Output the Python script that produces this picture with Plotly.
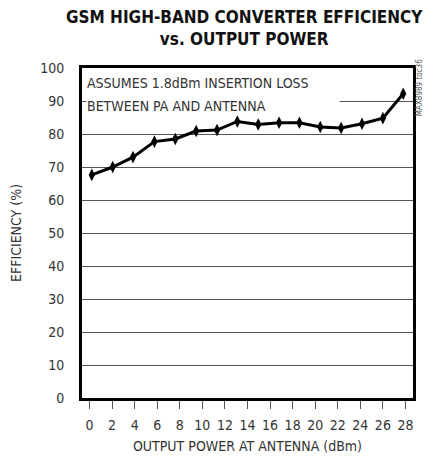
import plotly.graph_objects as go

# output power at antenna (dBm) and converter efficiency (%)
power_dbm = [0.2, 2.05, 3.85, 5.75, 7.6, 9.45, 11.3, 13.1, 14.95, 16.8, 18.6, 20.45, 22.3, 24.15, 26.0, 27.8]
efficiency = [67.6, 70.0, 73.0, 77.7, 78.5, 80.9, 81.2, 83.8, 82.9, 83.4, 83.4, 82.1, 81.8, 83.1, 84.8, 92.2]

x_ticks = list(range(0, 29, 2))
y_ticks = list(range(0, 101, 10))

FONT = "DejaVu Sans Condensed, sans-serif"
TEXT = "#333333"

fig = go.Figure()

fig.add_trace(go.Scatter(
    x=power_dbm, y=efficiency,
    mode="lines+markers",
    line=dict(color="black", width=3),
    marker=dict(symbol="diamond-tall", size=9, color="black"),
    showlegend=False,
))

# note text; the second line's white box hides the 90% gridline behind it
fig.add_annotation(
    xref="paper", yref="paper", x=0.012, y=0.955,
    xanchor="left", yanchor="middle", align="left",
    text="ASSUMES 1.8dBm INSERTION LOSS",
    showarrow=False, borderpad=0,
    font=dict(family=FONT, size=14, color=TEXT),
)
fig.add_annotation(
    xref="paper", yref="paper", x=0.012, y=0.884,
    xanchor="left", yanchor="middle", align="left",
    text="BETWEEN PA AND ANTENNA",
    showarrow=False, bgcolor="white", width=252, borderpad=0,
    font=dict(family=FONT, size=14, color=TEXT),
)

fig.add_annotation(
    xref="paper", yref="paper", x=0.49, y=1.121,
    text="<b>GSM HIGH-BAND CONVERTER EFFICIENCY<br>vs. OUTPUT POWER</b>",
    showarrow=False, xanchor="center", yanchor="middle",
    font=dict(family=FONT, size=17, color="#111111"),
)

fig.add_annotation(
    xref="paper", yref="paper", x=1.02, y=1.03,
    text="MAX8989 toc36", textangle=-90,
    showarrow=False, xanchor="center", yanchor="top",
    borderpad=0,
    font=dict(family=FONT, size=8, color="#555555"),
)

fig.update_layout(
    width=425, height=467,
    paper_bgcolor="white", plot_bgcolor="white",
    margin=dict(l=82, r=12, t=68, b=69),
    font=dict(family=FONT, color=TEXT, size=14),
    xaxis=dict(
        range=[-0.67, 28.67], tickvals=x_ticks, automargin=False,
        ticks="outside", ticklen=8, tickcolor="#555555", tickwidth=1,
        ticklabelstandoff=4,
        showgrid=False, zeroline=False,
        showline=True, linecolor="black", linewidth=3, mirror=True,
        title=dict(text="OUTPUT POWER AT ANTENNA (dBm)", standoff=10,
                   font=dict(family=FONT, size=14, color=TEXT)),
        tickfont=dict(family=FONT, size=14, color=TEXT),
    ),
    yaxis=dict(
        range=[0, 100], tickvals=y_ticks, automargin=False,
        ticks="", ticklabelstandoff=12,
        showgrid=True, gridcolor="#555555", gridwidth=1,
        zeroline=False,
        showline=True, linecolor="black", linewidth=3, mirror=True,
        title=dict(text="EFFICIENCY (%)", standoff=16,
                   font=dict(family=FONT, size=14, color=TEXT)),
        tickfont=dict(family=FONT, size=14, color=TEXT),
    ),
)

# drop the page's default 8px body margin so the figure fills the window
fig.write_html("out.html", config={"displayModeBar": False},
               post_script="document.body.style.margin='0';")
